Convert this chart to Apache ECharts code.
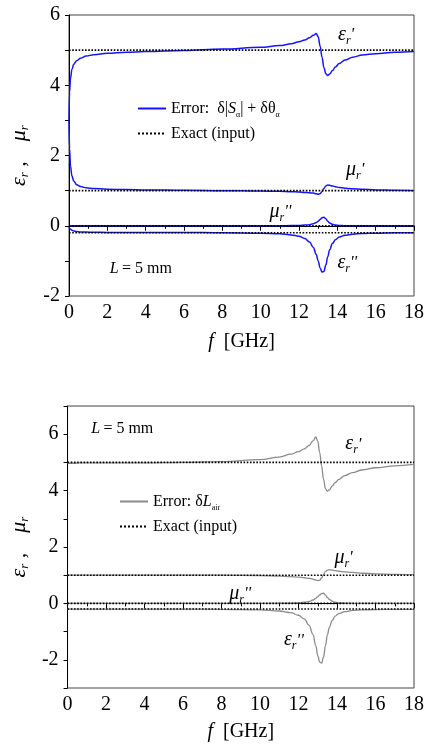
<!DOCTYPE html>
<html>
<head>
<meta charset="utf-8">
<script src="https://cdn.jsdelivr.net/npm/echarts@6/dist/echarts.min.js"></script>
<style>
  html, body { margin: 0; padding: 0; background: #fff; }
  #main { width: 427px; height: 745px; }
</style>
</head>
<body>
<div id="main"></div>
<script>
// frequency samples (GHz), shared by both panels
const freq = [0, 0.03, 0.08, 0.15, 0.25, 0.4, 0.6, 0.9, 1.3, 2, 3, 4, 6, 8, 10, 11, 11.6, 12, 12.3, 12.55,
  12.75, 12.9, 13.0, 13.1, 13.2, 13.3, 13.4, 13.5, 13.6, 13.75, 13.9, 14.1, 14.4, 14.8, 15.3, 16, 17, 18]

// top panel: error from d|S| + d(theta)
const epsReTop = [3.0, 3.8, 4.2, 4.45, 4.6, 4.7, 4.77, 4.83, 4.87, 4.91, 4.94, 4.96, 4.99, 5.03, 5.08, 5.13, 5.18, 5.24, 5.29, 5.35,
  5.42, 5.47, 5.38, 5.12, 4.8, 4.5, 4.33, 4.28, 4.32, 4.42, 4.52, 4.62, 4.72, 4.8, 4.86, 4.9, 4.94, 4.96]
const muReTop = [3.0, 2.2, 1.7, 1.42, 1.27, 1.17, 1.12, 1.08, 1.06, 1.04, 1.03, 1.02, 1.01, 1.0, 0.99, 0.98, 0.97, 0.96, 0.95, 0.94,
  0.93, 0.91, 0.9, 0.91, 0.97, 1.06, 1.13, 1.16, 1.15, 1.13, 1.11, 1.09, 1.07, 1.05, 1.04, 1.02, 1.01, 1.0]
const muImTop = [0, 0, 0, 0, 0, 0, 0, 0, 0, 0, 0, 0, 0, 0, 0, 0, 0.005, 0.01, 0.02, 0.03,
  0.06, 0.09, 0.13, 0.18, 0.23, 0.24, 0.2, 0.13, 0.08, 0.04, 0.02, 0.01, 0, 0, 0, 0, 0, 0]
const epsImTop = [-0.03, -0.07, -0.1, -0.13, -0.15, -0.165, -0.175, -0.18, -0.185, -0.19, -0.19, -0.19, -0.19, -0.2, -0.21, -0.23, -0.26, -0.3, -0.36, -0.46,
  -0.62, -0.82, -1.0, -1.2, -1.32, -1.3, -1.12, -0.88, -0.68, -0.5, -0.4, -0.32, -0.27, -0.24, -0.22, -0.21, -0.2, -0.2]

// bottom panel: error from dL_air
const epsReBot = [4.97, 4.97, 4.97, 4.97, 4.97, 4.97, 4.98, 4.98, 4.98, 4.98, 4.98, 4.98, 5.0, 5.03, 5.1, 5.19, 5.29, 5.38, 5.48, 5.6,
  5.76, 5.9, 5.75, 5.35, 4.88, 4.4, 4.07, 3.98, 4.03, 4.16, 4.28, 4.4, 4.53, 4.64, 4.73, 4.81, 4.88, 4.93]
const muReBot = [1, 1, 1, 1, 1, 1, 1, 1, 1, 1, 1, 1, 1, 1.0, 0.99, 0.97, 0.95, 0.93, 0.91, 0.89,
  0.86, 0.83, 0.81, 0.82, 0.9, 1.03, 1.13, 1.18, 1.19, 1.18, 1.16, 1.14, 1.12, 1.1, 1.07, 1.05, 1.03, 1.02]
const muImBot = [0, 0, 0, 0, 0, 0, 0, 0, 0, 0, 0, 0, 0, 0, 0, 0.005, 0.01, 0.02, 0.04, 0.07,
  0.12, 0.18, 0.24, 0.3, 0.35, 0.36, 0.3, 0.21, 0.14, 0.08, 0.04, 0.02, 0.01, 0, 0, 0, 0, 0]
const epsImBot = [-0.2, -0.2, -0.2, -0.2, -0.2, -0.2, -0.2, -0.2, -0.2, -0.2, -0.2, -0.2, -0.2, -0.21, -0.23, -0.27, -0.33, -0.42, -0.55, -0.78,
  -1.1, -1.5, -1.85, -2.08, -2.12, -1.9, -1.5, -1.12, -0.85, -0.6, -0.45, -0.36, -0.29, -0.25, -0.23, -0.22, -0.21, -0.21]

// exact (input) values
const exactValues = [5, 1, 0, -0.2]
const freqRange = [0, 18]

const serif = "'Liberation Serif', 'Times New Roman', serif"
const BLUE = '#1414ff'
const GRAY = '#8a8a8a'

const richTxt = {
  g: { fontFamily: serif, fontStyle: 'italic', fontSize: 20, lineHeight: 24, color: '#000' },
  s: { fontFamily: serif, fontStyle: 'italic', fontSize: 12, lineHeight: 12, verticalAlign: 'bottom', color: '#000' },
  p: { fontFamily: serif, fontStyle: 'italic', fontSize: 17, lineHeight: 24, color: '#000' },
  n: { fontFamily: serif, fontSize: 16, lineHeight: 21, color: '#000' },
  i: { fontFamily: serif, fontStyle: 'italic', fontSize: 16, lineHeight: 21, color: '#000' },
  a: { fontFamily: serif, fontSize: 8, lineHeight: 8, verticalAlign: 'bottom', color: '#000' }
}

const EPS_RE = '{g|ε}{s|r}{p|\'}'
const EPS_IM = '{g|ε}{s|r}{p|\'\'}'
const MU_RE = '{g|μ}{s|r}{p|\'}'
const MU_IM = '{g|μ}{s|r}{p|\'\'}'
const L_TXT = '{i|L} {n|= 5 mm}'

// annotations [f, value, text]
const notesTop = [
  [14.46, 5.43, EPS_RE], [14.93, 1.59, MU_RE], [11.03, 0.4, MU_IM], [14.52, -1.05, EPS_IM], [3.75, -1.22, L_TXT]
]
const notesBot = [
  [2.84, 6.18, L_TXT], [14.85, 5.65, EPS_RE], [14.34, 1.62, MU_RE], [8.97, 0.35, MU_IM], [11.76, -1.3, EPS_IM]
]

function pairs (ys) {
  return freq.map((f, i) => [f, ys[i]])
}

function curve (name, ys, idx, color, width) {
  return {
    name: name,
    type: 'line',
    xAxisIndex: idx,
    yAxisIndex: idx,
    data: pairs(ys),
    symbol: 'none',
    smooth: 0.4,
    smoothMonotone: 'x',
    lineStyle: { color: color, width: width },
    itemStyle: { color: color },
    z: 3
  }
}

function exact (name, v, idx) {
  return {
    name: name,
    type: 'line',
    xAxisIndex: idx,
    yAxisIndex: idx,
    data: [[freqRange[0], v], [freqRange[1], v]],
    symbol: 'none',
    lineStyle: { color: '#000', width: 1.6, type: 'dotted' },
    itemStyle: { color: '#000' },
    z: 4
  }
}

function notes (list, idx) {
  return {
    type: 'line',
    xAxisIndex: idx,
    yAxisIndex: idx,
    data: [],
    silent: true,
    markPoint: {
      symbol: 'circle',
      symbolSize: 0,
      animation: false,
      label: { show: true, position: 'inside', rich: richTxt },
      data: list.map(n => ({ coord: [n[0], n[1]], label: { formatter: n[2] } }))
    }
  }
}

function xAxisOpt (idx, fontSize, gap) {
  return {
    type: 'value',
    gridIndex: idx,
    min: freqRange[0],
    max: freqRange[1],
    interval: 2,
    name: '{i|f}   {n|[GHz]}',
    nameLocation: 'middle',
    nameGap: gap,
    nameTextStyle: {
      rich: {
        i: { fontFamily: serif, fontStyle: 'italic', fontSize: 20, color: '#000' },
        n: { fontFamily: serif, fontSize: 20, color: '#000' }
      }
    },
    axisLine: { lineStyle: { color: '#000', width: 1 } },
    axisTick: { length: 5, lineStyle: { color: '#000' } },
    minorTick: { show: true, splitNumber: 2, length: 3, lineStyle: { color: '#000' } },
    splitLine: { show: false },
    axisLabel: { fontFamily: serif, fontSize: fontSize, color: '#000', margin: 7 }
  }
}

function yAxisOpt (idx, min, max, fontSize, gap) {
  return {
    type: 'value',
    gridIndex: idx,
    min: min,
    max: max,
    interval: 1,
    name: '{g|ε}{s|r}{g| ,}      {g|μ}{s|r}',
    nameLocation: 'middle',
    nameGap: gap,
    nameTextStyle: {
      rich: {
        g: { fontFamily: serif, fontStyle: 'italic', fontSize: 22, lineHeight: 24, color: '#000' },
        s: { fontFamily: serif, fontStyle: 'italic', fontSize: 13, lineHeight: 13, verticalAlign: 'bottom', color: '#000' }
      }
    },
    axisLine: { show: true, lineStyle: { color: '#000', width: 1 } },
    axisTick: { show: true, length: 4, lineStyle: { color: '#000' } },
    splitLine: { show: false },
    axisLabel: {
      fontFamily: serif,
      fontSize: fontSize,
      color: '#000',
      margin: 9,
      formatter: v => (v % 2 === 0 ? String(v) : '')
    }
  }
}

function legendOpt (names, left, top, labels) {
  return {
    data: names,
    orient: 'vertical',
    left: left,
    top: top,
    itemWidth: 28,
    itemHeight: 14,
    itemGap: 4,
    selectedMode: false,
    itemStyle: { opacity: 0 },
    formatter: name => labels[name],
    textStyle: { fontFamily: serif, fontSize: 16, lineHeight: 21, color: '#000', rich: richTxt }
  }
}

const chart = echarts.init(document.getElementById('main'))

const series = [
  curve('err1', epsReTop, 0, BLUE, 1.5),
  curve('err1', muReTop, 0, BLUE, 1.5),
  curve('err1', muImTop, 0, BLUE, 1.5),
  curve('err1', epsImTop, 0, BLUE, 1.5),
  curve('err2', epsReBot, 1, GRAY, 1.3),
  curve('err2', muReBot, 1, GRAY, 1.3),
  curve('err2', muImBot, 1, GRAY, 1.3),
  curve('err2', epsImBot, 1, GRAY, 1.3)
]
exactValues.forEach(v => {
  series.push(exact('exact1', v, 0))
  series.push(exact('exact2', v, 1))
})
series.push(notes(notesTop, 0))
series.push(notes(notesBot, 1))

chart.setOption({
  animation: false,
  grid: [
    { left: 68, top: 15, width: 346, height: 281, show: true, borderColor: '#444', borderWidth: 1 },
    { left: 65, top: 406, width: 349, height: 282, show: true, borderColor: '#444', borderWidth: 1 }
  ],
  xAxis: [xAxisOpt(0, 20, 36), xAxisOpt(1, 20, 34)],
  yAxis: [yAxisOpt(0, -2, 6, 20, 38), yAxisOpt(1, -3, 7, 20, 35)],
  legend: [
    legendOpt(['err1', 'exact1'], 132, 93, {
      err1: '{n|Error:  δ|}{i|S}{a|α}{n|| + δθ}{a|α}',
      exact1: '{n|Exact (input)}'
    }),
    legendOpt(['err2', 'exact2'], 114, 486, {
      err2: '{n|Error: δ}{i|L}{a|air}',
      exact2: '{n|Exact (input)}'
    })
  ],
  series: series
})
</script>
</body>
</html>
